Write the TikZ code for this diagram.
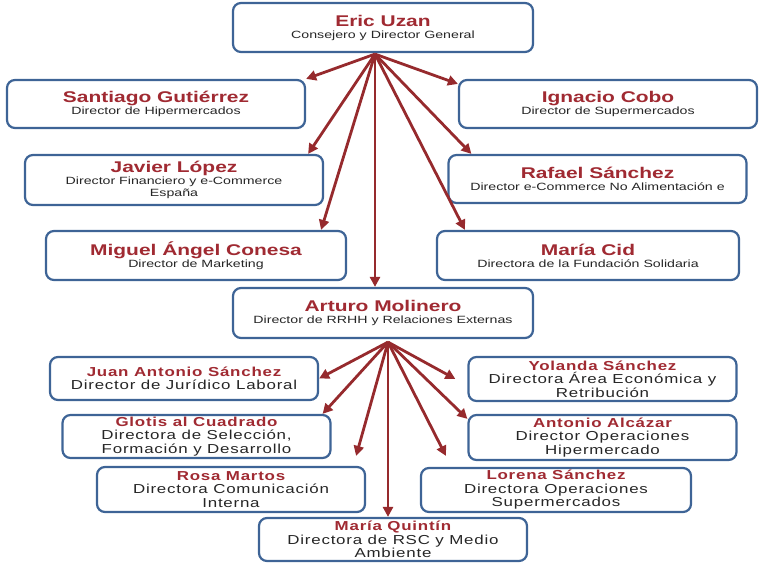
\documentclass[tikz,border=0pt]{standalone}
\usepackage{fontspec}
\setmainfont[FakeStretch=1.35]{Liberation Sans}
\newfontfamily\abajofont[FakeStretch=1.3,LetterSpace=6]{Liberation Sans}
\usetikzlibrary{arrows.meta}
\definecolor{azulcaja}{RGB}{62,100,150}
\definecolor{rojoflecha}{RGB}{150,42,45}
\definecolor{rojonombre}{RGB}{160,42,50}
\newcommand{\nombre}[1]{{\color{rojonombre}\fontsize{15.5}{17}\selectfont\bfseries #1}}
\newcommand{\nombrebajo}[1]{{\color{rojonombre}\bfseries #1}}
\tikzset{
	caja/.style={draw=azulcaja, line width=2.2pt, rounded corners=8pt, fill=white, align=center, inner sep=0pt, text=black!85},
	arriba/.style={caja, minimum width=298pt, minimum height=48pt, font=\fontsize{10.5}{12}\selectfont},
	abajo/.style={caja, minimum width=268pt, minimum height=44pt, font=\abajofont\fontsize{13}{13.5}\selectfont},
	flecha/.style={draw=rojoflecha, line width=2.8pt, -{Triangle[length=10pt,width=10pt]}}
}
\begin{document}
\begin{tikzpicture}[x=1pt,y=1pt]
		\useasboundingbox (0,0) rectangle (759,563);

		% direccion general
		\node[arriba, minimum width=300pt, minimum height=49pt] (eric) at (383,535.5) {\nombre{Eric Uzan}\\Consejero y Director General};
		\node[arriba] (santiago) at (156,459) {\nombre{Santiago Gutiérrez}\\Director de Hipermercados};
		\node[arriba] (ignacio) at (608,459) {\nombre{Ignacio Cobo}\\Director de Supermercados};
		\node[arriba, minimum height=50pt] (javier) at (174,383) {\nombre{Javier López}\\Director Financiero  y e-Commerce\\España};
		\node[arriba] (rafael) at (597.5,384) {\nombre{Rafael Sánchez}\\Director e-Commerce No Alimentación  e};
		\node[arriba, minimum width=300pt, minimum height=49pt] (miguel) at (196,307.5) {\nombre{Miguel Ángel Conesa}\\Director de Marketing};
		\node[arriba, minimum width=302pt, minimum height=49pt] (cid) at (588,307.5) {\nombre{María Cid}\\Directora de la Fundación  Solidaria};
		\node[arriba, minimum width=300pt, minimum height=50pt] (arturo) at (383,250) {\nombre{Arturo Molinero}\\Director de RRHH y Relaciones  Externas};

		% recursos humanos
		\node[abajo, minimum height=43pt] (juan) at (184,184.5) {\nombrebajo{Juan Antonio Sánchez}\\Director de Jurídico Laboral};
		\node[abajo, minimum height=43pt] (glotis) at (196.5,126.5) {\nombrebajo{Glotis al Cuadrado}\\Directora de Selección,\\Formación y Desarrollo};
		\node[abajo, minimum height=45pt] (rosa) at (231,73.5) {\nombrebajo{Rosa Martos}\\Directora Comunicación\\Interna};
		\node[abajo, minimum height=43pt] (quintin) at (393,23.5) {\nombrebajo{María Quintín}\\Directora de RSC y Medio\\Ambiente};
		\node[abajo] (yolanda) at (602.5,184) {\nombrebajo{Yolanda Sánchez}\\Directora Área Económica y\\Retribución};
		\node[abajo, minimum height=45pt] (antonio) at (602.5,125.5) {\nombrebajo{Antonio Alcázar}\\Director Operaciones\\Hipermercado};
		\node[abajo, minimum width=270pt] (lorena) at (556,73) {\nombrebajo{Lorena Sánchez}\\Directora Operaciones\\Supermercados};

		\coordinate (hubA) at ([xshift=-8pt,yshift=-1pt]eric.south);
		\coordinate (hubB) at ([xshift=5pt,yshift=-3pt]arturo.south);

		\draw[flecha] (hubA) -- (santiago.north east);
		\draw[flecha] (hubA) -- ([xshift=-16pt]javier.north east);
		\draw[flecha] (hubA) -- ([xshift=-26pt]miguel.north east);
		\draw[flecha] (hubA) -- (hubA |- arturo.north);
		\draw[flecha] (hubA) -- ([yshift=-5pt]ignacio.north west);
		\draw[flecha] (hubA) -- ([xshift=24pt]rafael.north west);
		\draw[flecha] (hubA) -- ([xshift=29pt]cid.north west);

		\draw[flecha] (hubB) -- (juan.east);
		\draw[flecha] (hubB) -- ([xshift=-9pt]glotis.north east);
		\draw[flecha] (hubB) -- ([xshift=-10pt,yshift=10pt]rosa.north east);
		\draw[flecha] (hubB) -- (hubB |- quintin.north);
		\draw[flecha] (hubB) -- ([xshift=-12pt]yolanda.west);
		\draw[flecha] (hubB) -- ([yshift=-5pt]antonio.north west);
		\draw[flecha] (hubB) -- ([xshift=26pt,yshift=11pt]lorena.north west);

	\end{tikzpicture}
\end{document}
